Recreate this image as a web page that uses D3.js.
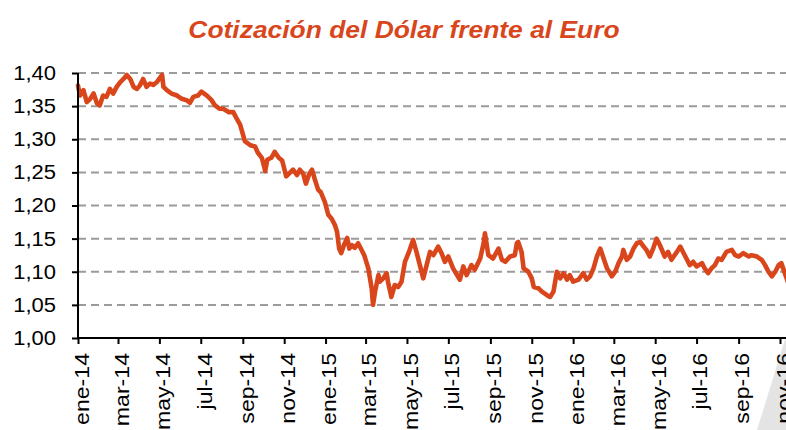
<!DOCTYPE html>
<html>
<head>
<meta charset="utf-8">
<script src="https://cdn.jsdelivr.net/npm/d3@7"></script>
<style>
  body { margin: 0; background: #fff; }
  svg { display: block; font-family: "Liberation Sans", Arial, sans-serif; }
</style>
</head>
<body>
<div id="chart"></div>
<script>
// daily USD per EUR (roughly every 5 days)
var dates = [
  "2014-01-01","2014-01-04","2014-01-09","2014-01-14","2014-01-19","2014-01-24","2014-01-29","2014-02-02",
  "2014-02-07","2014-02-12","2014-02-17","2014-02-22","2014-02-27","2014-03-04","2014-03-09","2014-03-14",
  "2014-03-19","2014-03-24","2014-03-29","2014-04-02","2014-04-07","2014-04-12","2014-04-17","2014-04-22",
  "2014-04-27","2014-05-05","2014-05-07","2014-05-12","2014-05-19","2014-05-27","2014-06-03","2014-06-10",
  "2014-06-15","2014-06-20","2014-06-27","2014-07-02","2014-07-10","2014-07-17","2014-07-22","2014-07-29",
  "2014-08-03","2014-08-11","2014-08-18","2014-08-23","2014-08-28","2014-09-04","2014-09-12","2014-09-19",
  "2014-09-23","2014-09-29","2014-10-04","2014-10-07","2014-10-13","2014-10-18","2014-10-24","2014-10-29",
  "2014-11-04","2014-11-10","2014-11-14","2014-11-20","2014-11-24","2014-11-29","2014-12-03","2014-12-08",
  "2014-12-12","2014-12-16","2014-12-21","2014-12-25","2014-12-31","2015-01-05","2015-01-10","2015-01-15",
  "2015-01-18","2015-01-21","2015-01-24","2015-01-28","2015-02-02","2015-02-05","2015-02-09","2015-02-13",
  "2015-02-18","2015-02-22","2015-02-27","2015-03-05","2015-03-10","2015-03-12","2015-03-15","2015-03-20",
  "2015-03-22","2015-03-27","2015-04-01","2015-04-03","2015-04-08","2015-04-13","2015-04-18","2015-04-23",
  "2015-04-28","2015-05-04","2015-05-10","2015-05-15","2015-05-20","2015-05-25","2015-05-30","2015-06-04",
  "2015-06-09","2015-06-16","2015-06-21","2015-06-26","2015-07-01","2015-07-08","2015-07-18","2015-07-23",
  "2015-07-28","2015-08-04","2015-08-09","2015-08-17","2015-08-22","2015-08-24","2015-08-29","2015-09-05",
  "2015-09-13","2015-09-18","2015-09-23","2015-09-30","2015-10-07","2015-10-10","2015-10-12","2015-10-17",
  "2015-10-20","2015-10-27","2015-11-01","2015-11-04","2015-11-11","2015-11-16","2015-11-23","2015-11-28",
  "2015-12-03","2015-12-08","2015-12-13","2015-12-18","2015-12-23","2015-12-27","2016-01-01","2016-01-09",
  "2016-01-16","2016-01-21","2016-01-26","2016-01-31","2016-02-05","2016-02-10","2016-02-15","2016-02-20",
  "2016-02-27","2016-03-03","2016-03-08","2016-03-13","2016-03-15","2016-03-20","2016-03-25","2016-03-30",
  "2016-04-04","2016-04-09","2016-04-14","2016-04-18","2016-04-23","2016-04-28","2016-05-03","2016-05-08",
  "2016-05-15","2016-05-20","2016-05-25","2016-06-02","2016-06-07","2016-06-12","2016-06-16","2016-06-21",
  "2016-06-26","2016-07-01","2016-07-09","2016-07-13","2016-07-18","2016-07-23","2016-07-28","2016-08-02",
  "2016-08-07","2016-08-14","2016-08-22","2016-08-27","2016-09-01","2016-09-08","2016-09-16","2016-09-20",
  "2016-09-28","2016-10-05","2016-10-10","2016-10-15","2016-10-20","2016-10-25","2016-10-30","2016-11-03",
  "2016-11-08","2016-11-16"
];
var rates = [
  1.381,1.366,1.374,1.356,1.361,1.369,1.354,1.351,
  1.366,1.364,1.376,1.369,1.379,1.386,1.391,1.397,
  1.391,1.379,1.376,1.381,1.391,1.379,1.384,1.382,
  1.386,1.397,1.379,1.374,1.369,1.366,1.361,1.359,
  1.355,1.364,1.366,1.372,1.366,1.359,1.351,1.346,
  1.346,1.341,1.341,1.331,1.322,1.297,1.291,1.289,
  1.280,1.272,1.252,1.269,1.272,1.281,1.272,1.268,
  1.244,1.250,1.254,1.246,1.254,1.248,1.233,1.248,
  1.254,1.240,1.224,1.220,1.205,1.186,1.180,1.170,
  1.160,1.135,1.128,1.140,1.151,1.135,1.140,1.136,
  1.143,1.135,1.125,1.105,1.075,1.050,1.070,1.095,
  1.085,1.090,1.098,1.085,1.062,1.080,1.077,1.085,
  1.115,1.130,1.148,1.130,1.110,1.090,1.110,1.130,
  1.125,1.138,1.128,1.115,1.123,1.105,1.088,1.108,
  1.095,1.110,1.103,1.120,1.143,1.158,1.125,1.120,
  1.135,1.118,1.115,1.123,1.125,1.143,1.145,1.130,
  1.105,1.100,1.090,1.077,1.075,1.070,1.065,1.062,
  1.070,1.100,1.090,1.098,1.088,1.095,1.085,1.088,
  1.098,1.088,1.093,1.105,1.123,1.135,1.120,1.105,
  1.093,1.100,1.113,1.123,1.133,1.118,1.123,1.135,
  1.143,1.145,1.138,1.133,1.123,1.135,1.150,1.140,
  1.123,1.130,1.118,1.130,1.138,1.128,1.120,1.110,
  1.115,1.108,1.113,1.105,1.098,1.105,1.110,1.120,
  1.118,1.130,1.133,1.125,1.123,1.128,1.123,1.125,
  1.123,1.118,1.110,1.100,1.093,1.100,1.110,1.113,
  1.098,1.075
];
var yTicks = [1.00, 1.05, 1.10, 1.15, 1.20, 1.25, 1.30, 1.35, 1.40];
var monthsShort = ["ene","feb","mar","abr","may","jun","jul","ago","sep","oct","nov","dic"];
var titleText = "Cotización del Dólar frente al Euro";

var lineColor = "#d9461c";

var W = 786, H = 430;
var margin = {left: 78, right: 780, top: 73, bottom: 338};

var parse = d3.utcParse("%Y-%m-%d");
var data = dates.map(function(d, i) { return { date: parse(d), value: rates[i] }; });

var svg = d3.select("#chart").append("svg")
  .attr("width", W)
  .attr("height", H);

// stretch a text node horizontally (reference font runs wide)
function widen(k) {
  return function() {
    var w = this.getComputedTextLength();
    d3.select(this).attr("textLength", w * k).attr("lengthAdjust", "spacingAndGlyphs");
  };
}

// corner decoration
svg.append("polygon")
  .attr("points", "757,430 786,336 786,430")
  .attr("fill", "#e4e4e4");

// title
svg.append("text")
  .attr("x", 404)
  .attr("y", 38)
  .attr("text-anchor", "middle")
  .style("font-size", "24px")
  .style("font-weight", "bold")
  .style("font-style", "italic")
  .attr("fill", lineColor)
  .text(titleText)
  .each(widen(1.1));

var x = d3.scaleUtc()
  .domain([parse("2014-01-01"), parse("2016-11-01")])
  .range([margin.left, margin.right]);

var y = d3.scaleLinear()
  .domain([1.00, 1.40])
  .range([margin.bottom, margin.top]);

var fmtNum = d3.formatLocale({ decimal: ",", thousands: ".", grouping: [3], currency: ["", "€"] }).format(".2f");
var fmtDate = function(d) {
  return monthsShort[d.getUTCMonth()] + "-" + String(d.getUTCFullYear()).slice(2);
};

// gridlines
svg.append("g")
  .selectAll("line")
  .data(yTicks.filter(function(d) { return d > 1.0; }))
  .enter()
  .append("line")
    .attr("x1", margin.left)
    .attr("x2", W)
    .attr("y1", function(d) { return y(d); })
    .attr("y2", function(d) { return y(d); })
    .attr("stroke", "#9b9b9b")
    .attr("stroke-width", 2)
    .attr("stroke-dasharray", "8,5");

// the line
var line = d3.line()
  .x(function(d) { return x(d.date); })
  .y(function(d) { return y(d.value); });

svg.append("path")
  .datum(data)
  .attr("d", line)
  .attr("fill", "none")
  .attr("stroke", lineColor)
  .attr("stroke-width", 4.6)
  .attr("stroke-linejoin", "round")
  .attr("stroke-linecap", "round");

// y axis
var yAxis = svg.append("g")
  .attr("transform", "translate(" + margin.left + ",0)")
  .call(d3.axisLeft(y).tickValues(yTicks).tickFormat(fmtNum).tickSize(6).tickPadding(16));
yAxis.select(".domain").attr("stroke", "#000").attr("stroke-width", 2).attr("d", "M0," + margin.top + "V" + margin.bottom);
yAxis.selectAll(".tick line").attr("stroke", "#000").attr("stroke-width", 2);
yAxis.selectAll("text")
  .style("font-size", "20px")
  .attr("fill", "#000")
  .each(widen(1.1));

// x axis
var xAxis = svg.append("g")
  .attr("transform", "translate(0," + margin.bottom + ")")
  .call(d3.axisBottom(x).ticks(d3.utcMonth.every(2)).tickFormat(fmtDate).tickSize(6));
xAxis.select(".domain").attr("stroke", "#000").attr("stroke-width", 2).attr("d", "M" + margin.left + ",0H" + W);
xAxis.selectAll(".tick line").attr("stroke", "#000").attr("stroke-width", 2);
xAxis.selectAll("text")
  .attr("transform", "rotate(-90)")
  .attr("x", -15)
  .attr("y", 3)
  .attr("dy", "0.35em")
  .style("text-anchor", "end")
  .style("font-size", "21px")
  .attr("fill", "#000")
  .each(widen(1.1));
</script>
</body>
</html>
